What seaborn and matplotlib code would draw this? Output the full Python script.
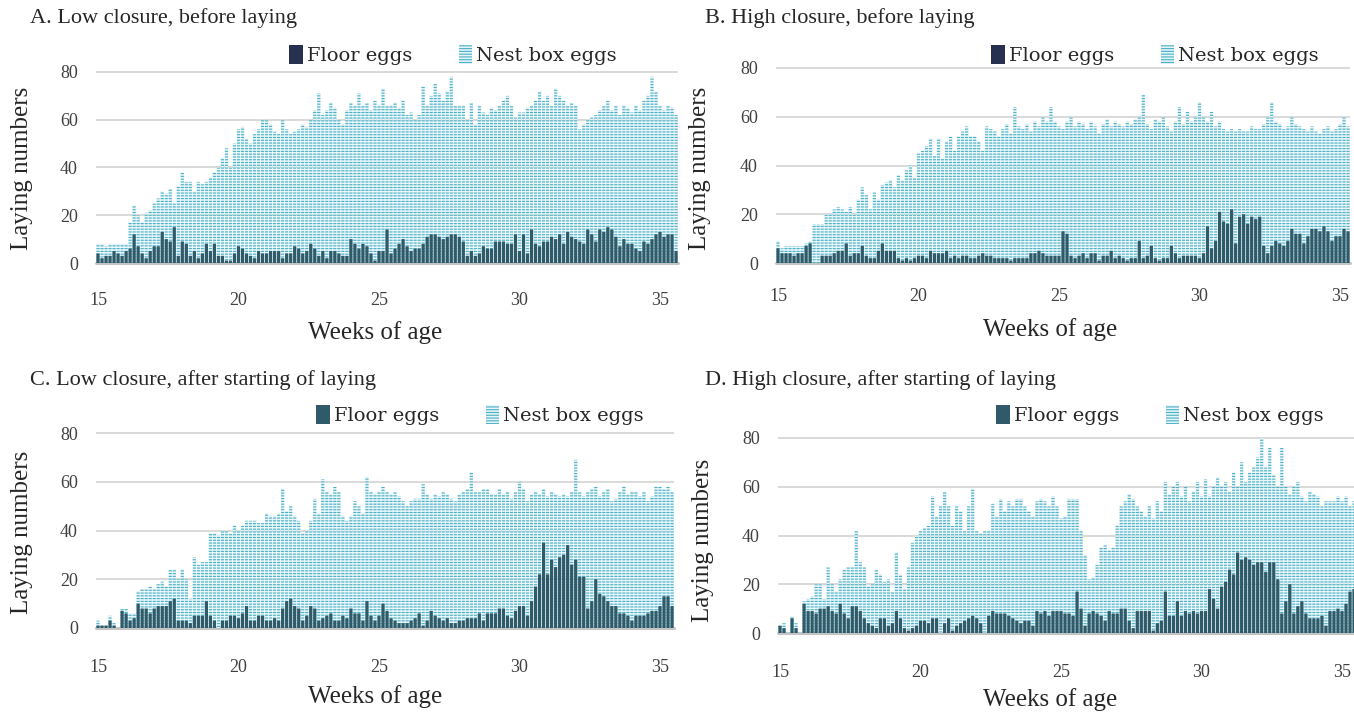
import numpy as np
import pandas as pd
import matplotlib
matplotlib.use("Agg")
import matplotlib.pyplot as plt
from matplotlib.patches import Patch
import seaborn as sns

# ---------------- data (daily egg counts, day 0 = 15 weeks of age) ----------------
# total = floor eggs + nest box eggs (top of the stacked bar)
floor_a = [
    4, 2, 3, 3, 5, 4, 3,
    5, 6, 12, 7, 4, 2, 5,
    7, 7, 13, 10, 9, 15, 3,
    9, 8, 3, 5, 2, 4, 8,
    5, 8, 3, 3, 1, 1, 4,
    7, 6, 4, 3, 2, 5, 4,
    4, 5, 5, 5, 2, 4, 4,
    7, 6, 4, 5, 8, 6, 3,
    5, 2, 5, 5, 4, 3, 3,
    10, 8, 6, 8, 7, 4, 1,
    5, 5, 14, 4, 6, 8, 10,
    7, 5, 6, 6, 8, 11, 12,
    12, 11, 10, 11, 12, 12, 11,
    9, 3, 5, 3, 4, 7, 6,
    6, 9, 9, 9, 8, 8, 12,
    5, 12, 4, 14, 8, 7, 9,
    9, 11, 10, 12, 8, 13, 11,
    10, 9, 8, 14, 12, 9, 14,
    13, 15, 14, 11, 7, 10, 8,
    8, 6, 5, 9, 8, 10, 12,
    13, 11, 12, 12, 5]
total_a = [
    8, 8, 7, 8, 8, 8, 8,
    8, 17, 24, 20, 17, 21, 22,
    25, 27, 30, 29, 31, 25, 32,
    38, 34, 34, 30, 34, 33, 34,
    36, 38, 40, 44, 48, 40, 50,
    56, 57, 52, 50, 54, 56, 60,
    60, 58, 55, 54, 60, 56, 54,
    55, 56, 58, 57, 60, 64, 71,
    62, 64, 67, 65, 60, 58, 64,
    67, 66, 71, 66, 67, 64, 68,
    66, 73, 66, 66, 67, 65, 68,
    62, 63, 60, 62, 74, 66, 70,
    75, 71, 68, 72, 78, 66, 66,
    66, 60, 67, 58, 66, 63, 62,
    65, 64, 66, 68, 70, 66, 61,
    63, 63, 65, 66, 68, 72, 68,
    70, 66, 73, 70, 68, 66, 67,
    66, 56, 58, 60, 61, 62, 64,
    66, 68, 64, 66, 62, 66, 65,
    63, 66, 64, 68, 70, 78, 72,
    66, 64, 66, 65, 62]

floor_b = [
    6, 4, 4, 4, 3, 4, 4,
    7, 8, 0, 0, 3, 3, 3,
    4, 5, 5, 8, 3, 4, 4,
    7, 3, 2, 2, 5, 8, 5,
    5, 5, 2, 1, 2, 1, 2,
    3, 3, 2, 5, 4, 4, 4,
    5, 2, 3, 2, 3, 3, 2,
    2, 3, 4, 3, 3, 2, 2,
    2, 2, 1, 2, 2, 2, 2,
    4, 4, 5, 4, 3, 3, 3,
    3, 13, 12, 3, 2, 3, 4,
    2, 4, 4, 1, 3, 3, 5,
    2, 3, 2, 1, 2, 2, 9,
    2, 3, 7, 2, 1, 2, 2,
    7, 4, 2, 3, 3, 3, 3,
    2, 4, 15, 6, 9, 21, 17,
    16, 22, 8, 19, 20, 16, 19,
    18, 19, 7, 4, 7, 9, 8,
    7, 9, 14, 12, 12, 8, 11,
    14, 14, 13, 15, 13, 9, 11,
    11, 14, 13]
total_b = [
    9, 6, 7, 7, 7, 7, 7,
    8, 9, 16, 16, 16, 20, 20,
    22, 23, 22, 21, 23, 20, 26,
    31, 28, 22, 29, 26, 32, 33,
    34, 31, 36, 34, 38, 40, 35,
    45, 46, 48, 51, 44, 51, 43,
    50, 52, 46, 52, 54, 56, 52,
    52, 50, 46, 56, 55, 54, 52,
    55, 57, 53, 64, 56, 55, 57,
    54, 58, 56, 60, 58, 64, 58,
    56, 55, 58, 60, 56, 58, 57,
    55, 58, 56, 53, 57, 59, 56,
    58, 57, 56, 58, 57, 59, 60,
    69, 57, 55, 59, 58, 60, 56,
    54, 58, 64, 57, 62, 58, 60,
    66, 60, 58, 62, 56, 58, 55,
    54, 55, 54, 55, 54, 54, 56,
    55, 55, 57, 60, 66, 58, 57,
    55, 56, 60, 57, 56, 55, 54,
    56, 54, 53, 55, 56, 54, 55,
    57, 60, 56]

floor_c = [
    1, 1, 1, 3, 1, 0, 7,
    6, 3, 4, 10, 8, 8, 6,
    8, 9, 9, 9, 11, 12, 3,
    3, 3, 2, 5, 5, 5, 11,
    5, 3, 0, 3, 3, 5, 5,
    4, 6, 9, 3, 3, 5, 5,
    3, 3, 4, 3, 8, 11, 12,
    9, 8, 3, 5, 9, 8, 3,
    4, 5, 6, 3, 3, 5, 4,
    8, 6, 6, 3, 11, 5, 3,
    5, 10, 7, 4, 3, 2, 2,
    2, 3, 4, 6, 1, 3, 7,
    5, 4, 3, 4, 2, 2, 3,
    3, 4, 4, 4, 6, 3, 6,
    6, 6, 8, 8, 5, 4, 7,
    9, 9, 5, 11, 17, 22, 35,
    22, 28, 25, 29, 30, 34, 26,
    28, 21, 21, 8, 11, 20, 14,
    13, 11, 9, 9, 6, 6, 5,
    3, 5, 5, 5, 6, 7, 7,
    9, 13, 13, 9]
total_c = [
    3, 1, 1, 5, 2, 0, 8,
    8, 6, 6, 15, 16, 16, 17,
    16, 18, 19, 17, 24, 24, 20,
    24, 20, 12, 29, 26, 27, 27,
    39, 39, 38, 40, 40, 39, 42,
    40, 42, 44, 44, 44, 43, 43,
    47, 46, 46, 47, 57, 48, 50,
    46, 44, 39, 40, 44, 53, 47,
    61, 56, 55, 58, 56, 46, 44,
    46, 52, 50, 47, 62, 56, 55,
    56, 58, 56, 55, 56, 54, 52,
    50, 52, 53, 53, 59, 55, 53,
    55, 54, 56, 55, 53, 52, 55,
    56, 57, 64, 56, 56, 57, 57,
    55, 55, 57, 55, 56, 53, 56,
    60, 57, 52, 55, 56, 55, 57,
    54, 56, 55, 54, 55, 54, 56,
    69, 56, 54, 56, 57, 58, 54,
    56, 57, 52, 53, 56, 58, 55,
    56, 56, 54, 56, 52, 54, 58,
    58, 57, 58, 56]

floor_d = [
    3, 2, 0, 6, 2, 0, 12,
    9, 9, 8, 10, 10, 11, 9,
    8, 12, 8, 6, 11, 11, 9,
    6, 4, 3, 2, 6, 6, 3,
    4, 9, 6, 2, 1, 2, 3,
    5, 5, 4, 6, 6, 0, 4,
    6, 1, 3, 4, 5, 6, 7,
    6, 4, 0, 7, 9, 8, 8,
    8, 7, 6, 5, 4, 5, 5,
    3, 9, 8, 9, 7, 9, 9,
    9, 8, 8, 7, 17, 10, 3,
    8, 9, 8, 7, 5, 9, 8,
    8, 10, 10, 5, 2, 9, 9,
    9, 9, 1, 4, 5, 17, 7,
    7, 13, 7, 9, 8, 9, 8,
    9, 9, 18, 14, 10, 19, 21,
    26, 24, 33, 30, 31, 30, 28,
    29, 29, 25, 29, 29, 22, 8,
    13, 20, 8, 11, 13, 8, 6,
    6, 6, 7, 3, 9, 9, 10,
    9, 12, 17, 18, 18, 17]
total_d = [
    3, 4, 0, 7, 4, 0, 13,
    14, 15, 20, 20, 14, 27, 20,
    17, 22, 26, 27, 27, 42, 29,
    27, 19, 20, 26, 24, 21, 22,
    17, 33, 24, 18, 27, 37, 40,
    42, 43, 44, 56, 48, 52, 58,
    52, 44, 52, 50, 42, 52, 59,
    42, 41, 42, 42, 53, 48, 55,
    50, 54, 52, 55, 55, 52, 50,
    48, 54, 55, 54, 52, 56, 52,
    47, 48, 55, 55, 55, 42, 32,
    22, 23, 28, 35, 36, 34, 35,
    44, 52, 54, 57, 55, 52, 50,
    48, 52, 47, 54, 50, 62, 57,
    60, 62, 56, 60, 54, 58, 62,
    56, 63, 56, 60, 64, 60, 62,
    58, 66, 60, 70, 62, 66, 68,
    72, 80, 68, 76, 65, 60, 76,
    60, 57, 60, 62, 56, 54, 58,
    57, 56, 52, 54, 54, 54, 56,
    54, 56, 52, 54, 55, 57]

titles = ["A. Low closure, before laying",
          "B. High closure, before laying",
          "C. Low closure, after starting of laying",
          "D. High closure, after starting of laying"]
series_labels = ["Floor eggs", "Nest box eggs"]
x_ticks = [15, 20, 25, 30, 35]
y_ticks = [0, 20, 40, 60, 80]
x_title = "Weeks of age"
y_title = "Laying numbers"

# ---------------- style ----------------
W, H = 1354, 718
sns.set_theme(style="white")
plt.rcParams['font.family'] = ['Liberation Serif', 'DejaVu Serif']
plt.rcParams['hatch.linewidth'] = 0.8

FLOOR_C = '#2f5a69'
NEST_FACE = '#e4f4f8'
NEST_HATCH = '#4ab0c6'
GRID = '#d9d9d9'
TXT = '#262626'
TICK = '#404040'
HATCH = '------'

fig = plt.figure(figsize=(W / 100, H / 100), dpi=100)
fig.patch.set_facecolor('white')

PPW = 28.1  # pixels per week
YTOP = 81

layout = [
    dict(x15=98, y80=72, y0=263, tpos=(30, 18), leg=(453, 55), ylab=(22, 168),
         xlab=(375, 333), tickpad=21, floor_leg='#28304f'),
    dict(x15=778, y80=68, y0=263, tpos=(705, 18), leg=(1155, 55), ylab=(700, 168),
         xlab=(1050, 330), tickpad=18, floor_leg='#28304f'),
    dict(x15=98, y80=433, y0=628, tpos=(30, 380), leg=(480, 415), ylab=(22, 532),
         xlab=(375, 697), tickpad=22, floor_leg=FLOOR_C),
    dict(x15=780, y80=438, y0=633, tpos=(705, 380), leg=(1160, 415), ylab=(703, 540),
         xlab=(1050, 700), tickpad=22, floor_leg=FLOOR_C),
]
floors = [floor_a, floor_b, floor_c, floor_d]
totals = [total_a, total_b, total_c, total_d]

for title, fl, tot, L in zip(titles, floors, totals, layout):
    n = len(fl)
    weeks = 15 + np.arange(n) / 7.0
    df = pd.DataFrame({"week": weeks, "floor": fl, "total": tot})
    ppd = PPW / 7.0
    left = L['x15'] - 0.5 * ppd
    right = L['x15'] + (n - 0.5) * ppd
    unit = (L['y0'] - L['y80']) / 80.0
    top = L['y0'] - YTOP * unit
    ax = fig.add_axes([left / W, 1 - L['y0'] / H, (right - left) / W, (L['y0'] - top) / H])

    sns.barplot(data=df, x="week", y="total", native_scale=True, color=NEST_FACE,
                saturation=1, errorbar=None, width=0.8, ax=ax, zorder=2)
    sns.barplot(data=df, x="week", y="floor", native_scale=True, color=FLOOR_C,
                saturation=1, errorbar=None, width=0.8, ax=ax, zorder=3)
    for b in ax.containers[0]:
        b.set_hatch(HATCH)
        b.set_edgecolor(NEST_HATCH)
        b.set_linewidth(0)
        b.set_snap(False)
    for b in ax.containers[1]:
        b.set_edgecolor('none')
        b.set_linewidth(0)
        b.set_snap(False)
    if ax.get_legend() is not None:
        ax.get_legend().remove()

    ax.set_xlim(15 - 0.5 / 7, 15 + (n - 0.5) / 7)
    ax.set_ylim(0, YTOP)
    ax.set_xticks(x_ticks)
    ax.set_xticklabels([str(t) for t in x_ticks])
    ax.set_yticks(y_ticks)
    ax.set_xlabel("")
    ax.set_ylabel("")
    ax.yaxis.grid(True, color=GRID, lw=1.4)
    ax.xaxis.grid(False)
    ax.set_axisbelow(True)
    ax.axhline(0, color='#c4c4c4', lw=2.2, zorder=1, clip_on=False)
    for s in ax.spines.values():
        s.set_visible(False)
    ax.tick_params(axis='x', length=0, pad=L['tickpad'], labelsize=13, labelcolor=TICK)
    ax.tick_params(axis='y', length=0, pad=13, labelsize=13, labelcolor=TICK)
    ax.patch.set_alpha(0)

    handles = [Patch(facecolor=L['floor_leg'], edgecolor='none'),
               Patch(facecolor=NEST_FACE, edgecolor=NEST_HATCH, hatch=HATCH, lw=0)]
    ax.legend(handles, series_labels, loc='center',
              bbox_to_anchor=(L['leg'][0] / W, 1 - L['leg'][1] / H),
              bbox_transform=fig.transFigure, ncol=2, frameon=False,
              prop={'family': 'DejaVu Serif', 'size': 14},
              handlelength=0.7, handleheight=1.1, handletextpad=0.2,
              columnspacing=2.4, borderaxespad=0, borderpad=0)

    fig.text(L['tpos'][0] / W, 1 - L['tpos'][1] / H, title, ha='left', va='center',
             fontsize=16, color=TXT)
    fig.text(L['ylab'][0] / W, 1 - L['ylab'][1] / H, y_title, rotation=90,
             ha='center', va='center', fontsize=18, color=TXT)
    fig.text(L['xlab'][0] / W, 1 - L['xlab'][1] / H, x_title, ha='center',
             va='center', fontsize=18, color=TXT)

fig.savefig("out.png", dpi=100, facecolor='white')
